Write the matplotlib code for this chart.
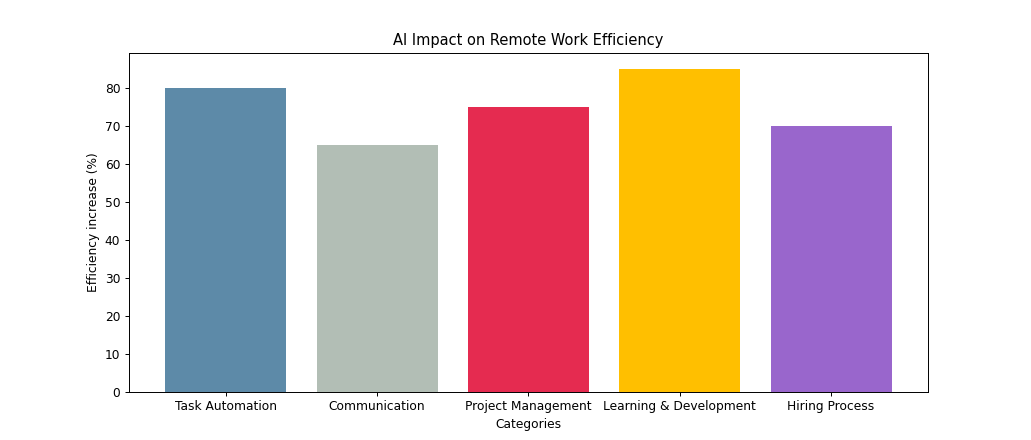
import matplotlib
matplotlib.use("Agg")
import matplotlib.pyplot as plt

categories = ["Task Automation", "Communication", "Project Management",
              "Learning & Development", "Hiring Process"]
efficiency = [80, 65, 75, 85, 70]
colors = ["#5D8AA8", "#B2BEB5", "#E52B50", "#FFBF00", "#9966CC"]

fig = plt.figure(figsize=(11.716, 5.0), dpi=88)
plt.bar(categories, efficiency, color=colors)
plt.xlabel("Categories")
plt.ylabel("Efficiency increase (%)")
plt.title("AI Impact on Remote Work Efficiency")
plt.savefig("out.png", dpi=88)
